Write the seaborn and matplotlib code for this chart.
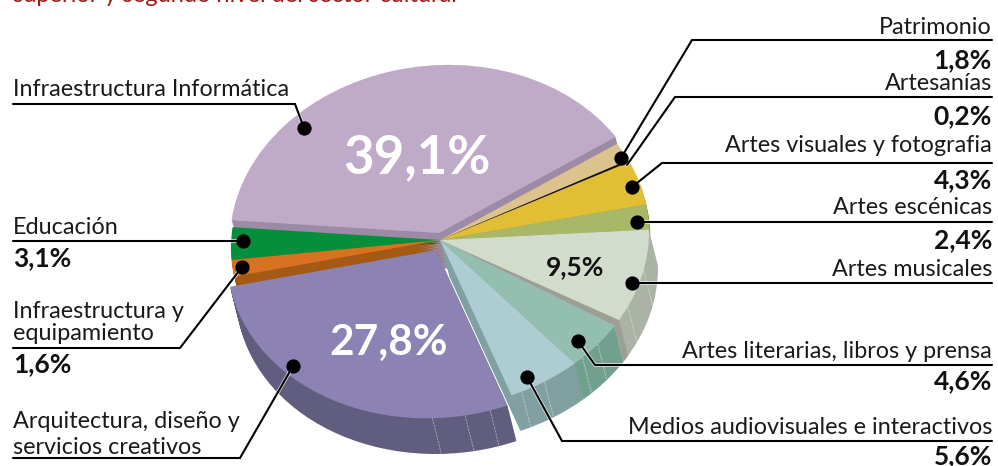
import numpy as np
import matplotlib
matplotlib.use("Agg")
import matplotlib.pyplot as plt
import matplotlib.patheffects as pe
from matplotlib.transforms import Affine2D
import seaborn as sns

categorias = ["Infraestructura Informática", "Patrimonio", "Artesanías",
              "Artes visuales y fotografia", "Artes escénicas", "Artes musicales",
              "Artes literarias, libros y prensa", "Medios audiovisuales e interactivos",
              "Arquitectura, diseño y servicios creativos", "Infraestructura y equipamiento",
              "Educación"]
valores = [39.1, 1.8, 0.2, 4.3, 2.4, 9.5, 4.6, 5.6, 27.8, 1.6, 3.1]
etiquetas = ["39,1%", "1,8%", "0,2%", "4,3%", "2,4%", "9,5%", "4,6%", "5,6%", "27,8%", "1,6%", "3,1%"]

top_colors = ["#BFABC8", "#DCC28C", "#111111", "#E2BE35", "#A9B866", "#D2DCCC",
              "#94BFB0", "#AECDD3", "#8C82B4", "#D97220", "#058F3C"]
wall_colors = ["#9C8BA6", "#B8A274", "#111111", "#B79A2A", "#8F9C4C", "#ABB3A6",
               "#72A08F", "#81A0A2", "#615D7E", "#A45A14", "#04702F"]

sns.set_theme(style="white")
plt.rcParams["font.family"] = ["Lato", "DejaVu Sans"]

W, H = 998, 466
CX, CY, RX, RY = 440, 240, 209, 168
START = 173

fig = plt.figure(figsize=(W / 100, H / 100), dpi=100)
ax = fig.add_axes([0, 0, 1, 1])
ax.set_xlim(-CX / RX, (W - CX) / RX)
ax.set_ylim(-(H - CY) / RY, CY / RY)

# the printed pie leans a little, right side higher than the left
tilt = Affine2D.from_values(1, 0.046, 0, 1, 0, 0) + ax.transData

# how far each slice is pushed off the pie, in pixels
nudge = {0: (-1, -7), 8: (-4, 10)}
depth = [1, 0.15, 0, 0.1, 0.15, 1, 1, 1, 1, 0.6, 0.1]
order = [0, 1, 3, 4, 2, 5, 6, 7, 10, 9, 8]
OFF = np.array([9, 36])
LAYERS = 24

fracs = np.array(valores) / sum(valores)
edges = START - 360 * np.concatenate([[0], np.cumsum(fracs)])


def shift(px):
    return np.array([px[0] / RX, -px[1] / RY])


def draw_slice(i, extra, color):
    # the other slices go in as invisible wedges so the angles come from the data
    cols = ["none"] * len(valores)
    cols[i] = color
    center = shift(nudge.get(i, (0, 0))) + shift(extra)
    wedges, _ = ax.pie(valores, colors=cols, startangle=START, counterclock=False,
                       center=tuple(center), radius=1, wedgeprops={"linewidth": 0})
    for w in wedges:
        w.set_transform(tilt)


def rim(deg):
    t = np.radians(deg)
    return np.array([np.cos(t), np.sin(t)])


for i in order:
    n = int(LAYERS * depth[i])
    for step in range(n, 0, -1):
        draw_slice(i, OFF * depth[i] * step / n, wall_colors[i])

# thin light seams in the wall
seams = {5: [-13, -26], 6: [-41, -47], 7: [-60, -67], 8: [-75, -82, -91]}
dx, dy = shift(OFF)
for i, angles in seams.items():
    ox, oy = shift(nudge.get(i, (0, 0)))
    for a in angles:
        x0, y0 = rim(a) + (ox, oy)
        ax.plot([x0, x0 + dx], [y0, y0 + dy], color="#FFFFFF", lw=0.6, alpha=0.45,
                ls=(0, (3, 1)), transform=tilt)

for i in order:
    draw_slice(i, (0, 0), top_colors[i])

# darker cut face where the pale slice meets the next one
a, b = rim(edges[6]), rim(edges[6] + 2.2)
ax.fill([0, a[0], a[0] + dx, b[0] + dx, b[0]], [0, a[1], a[1] + dy, b[1] + dy, b[1]],
        color="#9D9F95", lw=0, transform=tilt, zorder=1.5)

ax.set_aspect("auto")
ax.set_xlim(-CX / RX, (W - CX) / RX)
ax.set_ylim(-(H - CY) / RY, CY / RY)
ax.axis("off")

# overlay in pixel units for labels and leaders
ov = fig.add_axes([0, 0, 1, 1], facecolor="none")
ov.set_xlim(0, W)
ov.set_ylim(H, 0)
ov.axis("off")


def leader(points, dot=True):
    xs, ys = zip(*points)
    ov.plot(xs, ys, color="black", lw=1.5, solid_joinstyle="miter",
            path_effects=[pe.withStroke(linewidth=2.6, foreground="white", alpha=0.8)])
    if dot:
        ov.scatter(xs[-1], ys[-1], s=105, color="black", lw=0, zorder=5)


NAME_FS = 16.8
PCT_FS = 19


def name(x, y, s, ha="right"):
    ov.text(x, y, s, ha=ha, va="center", fontsize=NAME_FS, color="#1a1a1a")


def pct(x, y, s, ha="right"):
    ov.text(x, y, s, ha=ha, va="center", fontsize=PCT_FS, fontweight="bold", color="#111111")


ov.text(13, -4, "superior y segundo nivel del sector cultural", color="#9B1C14", fontsize=17,
        va="center", ha="left")

R, L = 992, 13
leader([(R, 40), (692, 40), (621, 158)])
name(R, 27, categorias[1]); pct(R, 60, etiquetas[1])
leader([(R, 97), (675, 97), (627, 165)], dot=False)
name(R, 84, categorias[2]); pct(R, 116, etiquetas[2])
leader([(R, 163), (662, 163), (632, 187)])
name(R, 145, categorias[3]); pct(R, 180, etiquetas[3])
leader([(R, 222), (637, 222)])
name(R, 207, categorias[4]); pct(R, 240, etiquetas[4])
leader([(R, 283), (632, 283)])
name(R, 270, categorias[5])
leader([(R, 365), (595, 365), (578, 341)])
name(R, 351, categorias[6]); pct(R, 381, etiquetas[6])
leader([(R, 441), (562, 441), (527, 377)])
name(R, 427, categorias[7]); pct(R, 456, etiquetas[7])

leader([(L, 104), (295, 104), (304, 128)])
name(L, 90, categorias[0], "left")
leader([(L, 241), (243, 241)])
name(L, 227, categorias[10], "left"); pct(L, 258, etiquetas[10], "left")
leader([(L, 348), (180, 348), (242, 267)])
name(L, 312, "Infraestructura y", "left"); name(L, 333, "equipamiento", "left")
pct(L, 364, etiquetas[9], "left")
leader([(L, 458), (240, 458), (293, 366)])
name(L, 422, "Arquitectura, diseño y", "left"); name(L, 447, "servicios creativos", "left")

ov.text(417, 158, etiquetas[0], color="white", fontsize=38, fontweight="bold", ha="center", va="center")
ov.text(389, 343, etiquetas[8], color="white", fontsize=30.5, fontweight="bold", ha="center", va="center")
ov.text(575, 267, etiquetas[5], color="#111111", fontsize=PCT_FS, fontweight="bold", ha="center", va="center")

fig.savefig("out.png", dpi=100)
